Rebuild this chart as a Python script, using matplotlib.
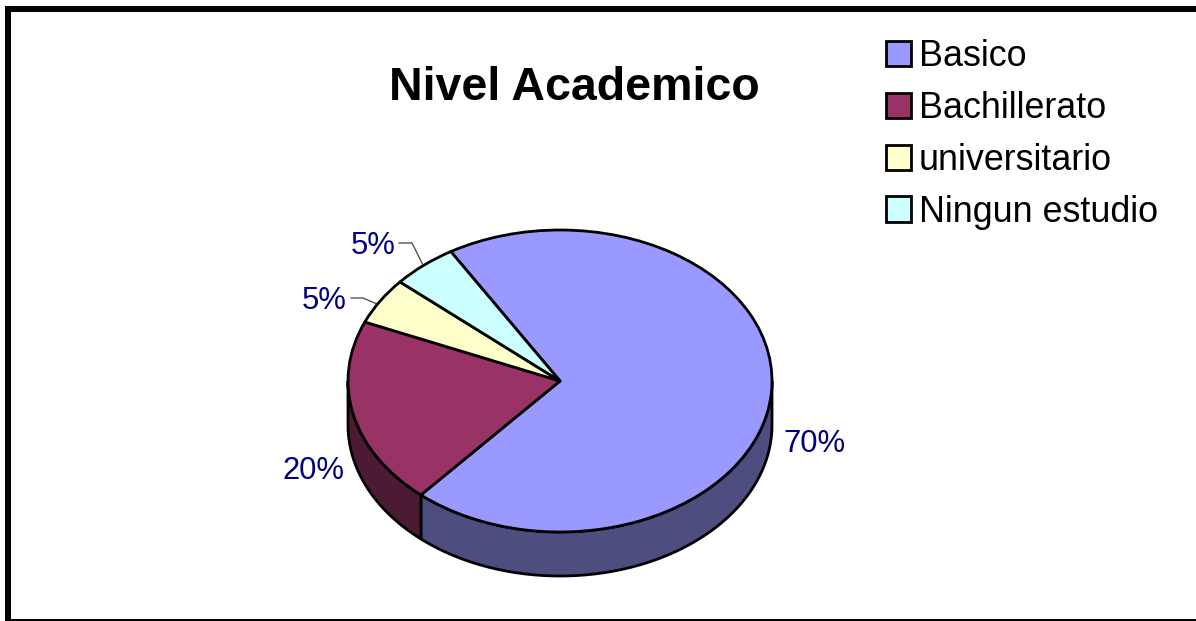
import numpy as np
import matplotlib
matplotlib.use('Agg')
import matplotlib.pyplot as plt
from matplotlib.patches import Rectangle

categories = ['Basico', 'Bachillerato', 'universitario', 'Ningun estudio']
values = [70, 20, 5, 5]
colors = ['#9999FF', '#993366', '#FFFFCC', '#CCFFFF']
side_colors = ['#4D4D80', '#4D1A33', '#80806A', '#6A8080']

W, H = 1196, 621
CX, CY, RX, RY, DEPTH = 560, 381, 212, 151, 44
START = 121
LW = 2.0

plt.rcParams['font.family'] = ['Liberation Sans', 'DejaVu Sans']

fig = plt.figure(figsize=(W / 100, H / 100), dpi=100, facecolor='white')
ax = fig.add_axes([0, 0, 1, 1])


# pixel position (from top left) to pie units
def px(x, y):
    return (x - CX) / RX, (CY - y) / RY


wedges, _ = ax.pie(values, colors=colors, startangle=START, counterclock=False,
                   radius=1, wedgeprops=dict(edgecolor='black', linewidth=LW, joinstyle='round', zorder=3))
ax.set_aspect('auto')
ax.set_xlim(px(0, 0)[0], px(W, 0)[0])
ax.set_ylim(px(0, H)[1], px(0, 0)[1])
ax.axis('off')

# side wall, only the part of each slice facing the front
depth = DEPTH / RY
edges = START - np.cumsum([0] + values) * 3.6
for i in range(len(values)):
    a1 = (edges[i + 1]) % 360
    a2 = a1 + values[i] * 3.6
    lo, hi = max(a1, 180), min(a2, 360)
    if lo >= hi:
        a1, a2 = a1 - 360, a2 - 360
        lo, hi = max(a1, -180), min(a2, 0)
        if lo >= hi:
            continue
    t = np.radians(np.linspace(lo, hi, 100))
    xs = np.r_[np.cos(t), np.cos(t[::-1])]
    ys = np.r_[np.sin(t), np.sin(t[::-1]) - depth]
    ax.fill(xs, ys, facecolor=side_colors[i], edgecolor='black', linewidth=LW, zorder=2)

# value labels and leader lines
label_pos = [(814, 444), (313, 471), (324, 301), (373, 246)]
for v, (x, y) in zip(values, label_pos):
    ax.text(*px(x, y), f'{v}%', color='#000080', fontsize=22.3, ha='center', va='center')

leaders = [[(351, 298), (363, 298), (377, 304)], [(399, 243), (412, 243), (423, 265)]]
for pts in leaders:
    xy = np.array([px(*p) for p in pts])
    ax.plot(xy[:, 0], xy[:, 1], color='#444444', linewidth=0.9, zorder=1)

ax.text(*px(574, 88), 'Nivel Academico', fontsize=33.5, fontweight='bold', ha='center', va='center')

leg = ax.legend(wedges, categories, loc='upper left', bbox_to_anchor=(886 / W, 1 - 39 / H),
                frameon=False, fontsize=25.8, handlelength=0.7, handleheight=0.7,
                handletextpad=0.22, labelspacing=0.47, borderpad=0, borderaxespad=0)
for h in leg.legend_handles:
    h.set_linewidth(LW)

# chart border
fig.add_artist(Rectangle((8 / W, -1 / H), 1190 / W, (H - 8) / H, transform=fig.transFigure,
                         fill=False, edgecolor='black', linewidth=4.3))

fig.savefig('out.png', dpi=100)
